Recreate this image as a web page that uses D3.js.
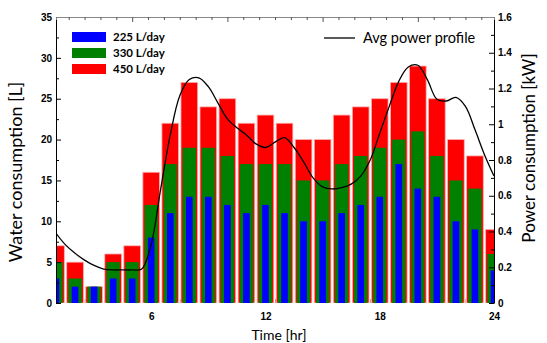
<!DOCTYPE html>
<html>
<head>
<meta charset="utf-8">
<script src="https://cdn.jsdelivr.net/npm/d3@7"></script>
<style>
  html, body { margin: 0; padding: 0; background: #fff; }
  svg { display: block; }
  .tick text { font-family: "Liberation Sans", Arial, sans-serif; font-weight: bold; font-size: 10px; fill: #000; }
</style>
</head>
<body>
<svg id="chart" width="547" height="343"></svg>
<script>
// Hourly water draw (litres) for three daily consumption levels
const hours = d3.range(1, 25);
const water450 = [7, 5, 2, 6, 7, 16, 22, 27, 24, 25, 22, 23, 22, 20, 20, 23, 24, 25, 27, 29, 25, 20, 18, 9];
const water330 = [5, 3, 2, 5, 5, 12, 17, 19, 19, 18, 17, 17, 17, 15, 15, 17, 18, 19, 20, 21, 18, 15, 14, 6];
const water225 = [3, 2, 2, 3, 3, 8, 11, 13, 13, 12, 11, 12, 11, 10, 10, 11, 12, 13, 17, 14, 13, 10, 9, 4];

// Average heater power (kW), sampled every half hour from 1:00 to 24:00
const powerTime = d3.range(1, 24.01, 0.5);
const powerKW = [0.39, 0.325, 0.278, 0.24, 0.21, 0.19, 0.185, 0.185, 0.185, 0.19,
                 0.33, 0.64, 0.94, 1.16, 1.25, 1.26, 1.21, 1.12, 1.03, 0.98,
                 0.94, 0.89, 0.87, 0.90, 0.925, 0.87, 0.79, 0.70, 0.65, 0.638,
                 0.645, 0.665, 0.71, 0.80, 0.95, 1.10, 1.24, 1.32, 1.33, 1.25,
                 1.14, 1.13, 1.15, 1.10, 0.97, 0.83, 0.71];

const seriesNames = ["225 L/day", "330 L/day", "450 L/day"];
const seriesColors = ["#0000ff", "#008000", "#ff0000"];
const waterTicks = d3.range(0, 36, 5);
const powerTicks = d3.range(0, 1.61, 0.2);
const hourLabels = [6, 12, 18, 24];

const svg = d3.select("#chart");
const mLeft = 56, mRight = 494, mTop = 17, mBottom = 303;

const x = d3.scaleLinear().domain([1, 24]).range([mLeft, mRight]);
const yW = d3.scaleLinear().domain([0, 35]).range([mBottom, mTop]);
const yP = d3.scaleLinear().domain([0, 1.6]).range([mBottom, mTop]);
const step = x(2) - x(1);

svg.append("defs").append("clipPath").attr("id", "plot")
  .append("rect").attr("x", mLeft).attr("y", mTop).attr("width", mRight - mLeft).attr("height", mBottom - mTop);

// bottom ticks (sit behind the bars)
const bottomMajor = [2.5, 7.5, 12.5, 17.5, 22.5];
svg.append("g").attr("transform", `translate(0,${mBottom})`)
  .call(d3.axisBottom(x).tickValues(bottomMajor).tickSize(-4).tickFormat(""))
  .call(g => g.select(".domain").remove())
  .call(g => g.selectAll("line").attr("stroke", "#999"));

// bars
const plot = svg.append("g").attr("clip-path", "url(#plot)");
const layers = [
  { data: water450, color: seriesColors[2], w: 0.875, stroke: "#ffb0b0" },
  { data: water330, color: seriesColors[1], w: 0.70, stroke: null },
  { data: water225, color: seriesColors[0], w: 0.35, stroke: null }
];
layers.forEach(L => {
  plot.append("g").selectAll("rect").data(hours).join("rect")
    .attr("x", (h) => x(h) - step * L.w / 2)
    .attr("width", step * L.w)
    .attr("y", (h, i) => yW(L.data[i]))
    .attr("height", (h, i) => mBottom - yW(L.data[i]))
    .attr("fill", L.color)
    .attr("stroke", L.stroke || "none")
    .attr("stroke-width", L.stroke ? 0.8 : 0);
});

// power line
const line = d3.line().x((d, i) => x(powerTime[i])).y(d => yP(d)).curve(d3.curveCatmullRom.alpha(0.5));
plot.append("path").datum(powerKW).attr("d", line)
  .attr("fill", "none").attr("stroke", "#000").attr("stroke-width", 1.3);

// left axis
const gL = svg.append("g").attr("transform", `translate(${mLeft},0)`);
gL.call(d3.axisLeft(yW).tickValues(d3.range(2.5, 35, 5)).tickSize(-3).tickFormat(""))
  .call(g => g.select(".domain").remove());
gL.append("g").call(d3.axisLeft(yW).tickValues(waterTicks).tickSizeInner(-5).tickSizeOuter(0).tickPadding(4));

// right axis
const gR = svg.append("g").attr("transform", `translate(${mRight},0)`);
gR.call(d3.axisRight(yP).tickValues(d3.range(0.1, 1.6, 0.2)).tickSize(-3).tickFormat(""))
  .call(g => g.select(".domain").remove());
gR.append("g").call(d3.axisRight(yP).tickValues(powerTicks).tickSizeInner(-5).tickSizeOuter(0).tickPadding(4)
  .tickFormat(d => d3.format("~g")(+d.toFixed(1))));

// top axis
const topMajor = [5, 10, 15, 20];
const topMinor = d3.range(5 / 6 * 2, 24, 5 / 6).filter(v => !topMajor.some(m => Math.abs(m - v) < 1e-6));
const gT = svg.append("g").attr("transform", `translate(0,${mTop})`);
gT.call(d3.axisTop(x).tickValues(topMinor).tickSize(-3).tickFormat(""))
  .call(g => g.selectAll("line").attr("stroke", "#555"));
gT.select(".domain").attr("stroke", "#888");
gT.append("g").call(d3.axisTop(x).tickValues(topMajor).tickSize(-5).tickFormat(""))
  .call(g => g.select(".domain").remove())
  .call(g => g.selectAll("line").attr("stroke", "#555"));

// bottom labels
svg.append("g").attr("transform", `translate(0,${mBottom})`)
  .call(d3.axisBottom(x).tickValues(hourLabels).tickSize(0).tickPadding(10))
  .call(g => g.select(".domain").remove());

// titles
const titleFont = "Lato, 'Open Sans', sans-serif";
svg.append("text").attr("transform", "translate(22,172) rotate(-90)")
  .attr("text-anchor", "middle").attr("font-family", titleFont).attr("font-size", 18).attr("fill", "#000")
  .text("Water consumption [L]");
svg.append("text").attr("transform", "translate(535,148) rotate(-90)")
  .attr("text-anchor", "middle").attr("font-family", titleFont).attr("font-size", 17).attr("fill", "#000")
  .text("Power consumption [kW]");
svg.append("text").attr("x", (mLeft + mRight) / 2 + 4).attr("y", 340)
  .attr("text-anchor", "middle").attr("font-family", titleFont).attr("font-size", 14).attr("fill", "#000")
  .text("Time [hr]");

// water legend
const legW = svg.append("g").attr("transform", "translate(72,32)");
seriesNames.forEach((name, i) => {
  const row = legW.append("g").attr("transform", `translate(0,${i * 16})`);
  row.append("rect").attr("width", 34).attr("height", 10).attr("fill", seriesColors[i]);
  row.append("text").attr("x", 41).attr("y", 9).attr("font-family", titleFont).attr("font-weight", "bold")
    .attr("font-size", 11.5).attr("fill", "#000").text(name);
});

// power legend
const legP = svg.append("g").attr("transform", "translate(324,38)");
legP.append("line").attr("x1", 0).attr("x2", 31).attr("stroke", "#000").attr("stroke-width", 1.3);
legP.append("text").attr("x", 39).attr("y", 5).attr("font-family", titleFont).attr("font-size", 14.5)
  .attr("fill", "#000").text("Avg power profile");
</script>
</body>
</html>
